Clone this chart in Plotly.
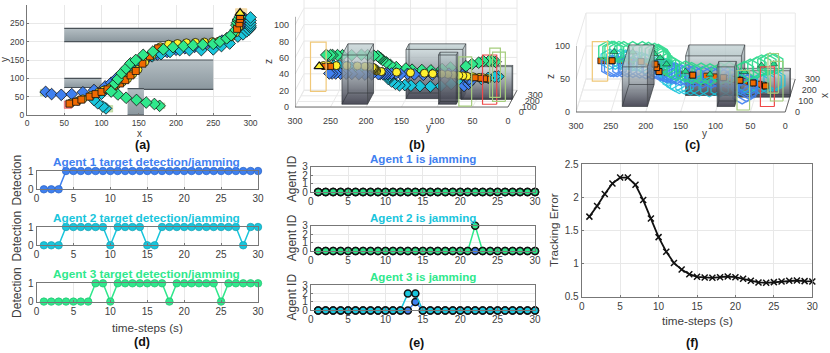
import plotly.graph_objects as go

W, H = 830, 353

# trajectories (a) and (b)
blue_x = [25,33,46,60,75,90,105,113,120,128,136,144,153,163,175,188,200,212,225,238,250,262,272,279,284,288,290,291,291,292]
blue_y = [63,57,55,57,62,68,78,88,100,112,125,138,148,158,165,172,178,182,186,190,193,203,213,222,232,240,248,255,260,264]
blue_z = [24,26,28,30,32,33,33,33,32,31,30,30,30,29,29,28,27,26,25,24,23,22,21,21,21,21,21,21,21,21]
cyan_x = [106,102,95,90,100,110,118,125,132,140,148,158,168,180,192,205,218,234,250,261,272,283,290,295,298,300,300,300,300,300]
cyan_y = [18,23,32,41,58,70,85,100,115,130,143,152,160,166,172,177,177,177,179,188,195,214,220,228,233,238,243,250,258,266]
cyan_z = [30,30,29,28,26,23,20,17,16,16,16,16,15,16,18,20,21,22,23,24,25,26,27,28,28,29,29,30,30,30]
green_x = [178,171,160,147,133,122,113,118,122,127,133,139,146,156,169,183,196,210,223,236,250,259,268,274,280,281,282,283,284,286]
green_y = [25,30,34,41,47,56,64,86,98,114,127,141,150,164,173,179,185,188,190,192,194,200,209,218,232,245,252,259,262,268]
green_z = [43,45,45,46,45,44,42,40,38,36,36,36,37,38,40,42,44,45,45,45,45,45,45,45,44,44,44,44,44,44]
target_x = [57,66,73,84,92,100,108,117,125,132,139,146,155,165,176,188,200,212,224,236,247,256,265,272,278,282,285,286,286,286]
target_y = [31,36,42,50,57,63,70,78,86,95,108,120,140,160,182,190,192,194,195,196,197,199,204,210,220,235,250,262,270,278]
target_z = [30]*30
track_x = [59,68,75,86,96,103,111,120,128,135,142,149,158,168,179,190,202,214,226,238,249,258,267,274,280,284,286,287,287,287]
track_y = [33,38,44,53,62,68,74,82,90,99,112,124,144,164,186,193,195,197,198,199,200,202,207,213,224,239,254,265,272,278]
track_z = [31]*30

# obstacles: x0, x1, y0, y1, height
obstacles = [(150,250,70,150,60), (135,157,0,72,40), (50,250,200,236,60), (50,100,75,100,60)]
# goal regions: x0, x1, y0, y1, colour
goals = [(280,295,268,290,"240,200,120"), (50,60,18,38,"240,72,72"), (18,30,52,70,"165,205,125"),
         (100,115,8,26,"165,205,125"), (172,185,18,33,"165,205,125")]

steps = list(range(1, 31))
detect1 = [0,0,0]+[1]*27
detect2 = [0,0,0,1,1,1,1,1,1,0,1,1,1,1,0,0,1,1,1,1,1,1,1,1,1,1,1,0,1,1]
detect3 = [0,0,0,0,0,0,0,1,1,0,1,1,1,1,1,1,1,0,1,1,1,1,1,1,0,1,1,1,1,1]
jam_zero = [0]*30
jam2_green = [0]*21+[3]+[0]*8
jam3_blue = [0]*13+[1]+[0]*16
jam3_cyan = [0]*12+[2,2]+[0]*16
track_error = [1.71,1.87,2.05,2.21,2.30,2.30,2.19,1.96,1.68,1.40,1.18,1.01,0.91,0.84,0.80,0.79,0.785,0.795,0.805,0.795,0.77,0.74,0.715,0.71,0.72,0.73,0.74,0.745,0.735,0.73]

BLUE, CYAN, GREEN = "#3f80f0", "#19c5dc", "#2fe88c"
FONT = "Liberation Sans"
TXT = "#404040"
GRID = "#e8e8e8"

fig = go.Figure()


def xdom(a, b):
    return [a/W, b/W]


def ydom(top, bottom):
    return [1-bottom/H, 1-top/H]


def set_axes(n, xd, yd, xr, yr, xticks, yticks, mirror=True, fs=10):
    axis = dict(showgrid=True, gridcolor=GRID, gridwidth=1, zeroline=False, showline=True,
                linecolor="#777777", linewidth=1, mirror=mirror, ticks="inside", ticklen=2,
                tickcolor="#777777", tickfont=dict(family=FONT, size=fs, color=TXT))
    s = "" if n == 1 else str(n)
    fig.layout["xaxis"+s] = dict(axis, domain=xd, range=xr, tickmode="array", tickvals=xticks,
                                 ticktext=[str(v) for v in xticks], anchor="y"+s)
    fig.layout["yaxis"+s] = dict(axis, domain=yd, range=yr, tickmode="array", tickvals=yticks,
                                 ticktext=[str(v) for v in yticks], anchor="x"+s)


def ax(n):
    return dict(xaxis="x" if n == 1 else f"x{n}", yaxis="y" if n == 1 else f"y{n}")


def label(text, px, py, size=10, color=TXT, bold=False, angle=0):
    fig.add_annotation(x=px/W, y=1-py/H, xref="paper", yref="paper", text=f"<b>{text}</b>" if bold else text,
                       showarrow=False, textangle=angle, xanchor="center", yanchor="middle",
                       font=dict(family=FONT, size=size, color=color))


def line_trace(n, xs, ys, color, width=1):
    fig.add_trace(go.Scatter(x=xs, y=ys, mode="lines", line=dict(color=color, width=width),
                             hoverinfo="skip", cliponaxis=False, **ax(n)))


def face(n, xs, ys, c0, c1, kind="vertical"):
    fig.add_trace(go.Scatter(x=xs, y=ys, mode="lines", fill="toself", line=dict(width=0),
                             fillgradient=dict(type=kind, colorscale=[[0, c0], [1, c1]]),
                             hoverinfo="skip", **ax(n)))


def markers(n, xs, ys, symbol, size, color, lw=0.8, lc="#111111", opacity=1):
    fig.add_trace(go.Scatter(x=xs, y=ys, mode="markers", cliponaxis=False, hoverinfo="skip", opacity=opacity,
                             marker=dict(symbol=symbol, size=size, color=color, line=dict(width=lw, color=lc)),
                             **ax(n)))


# ---------- panel (a) ----------
set_axes(1, xdom(27, 250.5), ydom(5, 115), [0, 300], [0, 300], list(range(0, 301, 50)), list(range(0, 301, 50)), mirror=False, fs=8.5)
for x0, x1, y0, y1, c in goals:
    fig.add_trace(go.Scatter(x=[x0, x1, x1, x0, x0], y=[y0, y0, y1, y1, y0], mode="lines", fill="toself",
                             line=dict(width=1, color=f"rgba({c},0.5)"), fillcolor=f"rgba({c},0.6)",
                             hoverinfo="skip", **ax(1)))
for x0, x1, y0, y1, h in [obstacles[2], obstacles[3], obstacles[0], obstacles[1]]:
    face(1, [x0, x1, x1, x0, x0], [y0, y0, y1, y1, y0], "#8b979e", "#b4bec3")
    line_trace(1, [x0, x1], [y1, y1], "#4a5258", 1.2)
    line_trace(1, [x0, x1], [y0, y0], "#4a5258", 1.2)
markers(1, blue_x, blue_y, "diamond", 9, BLUE)
markers(1, cyan_x, cyan_y, "diamond", 9, CYAN)
markers(1, track_x[:-1], track_y[:-1], "circle", 8, "#fff12e")
markers(1, target_x[:15], target_y[:15], "square", 7, "#f06a00")
markers(1, green_x, green_y, "diamond", 9, GREEN)
markers(1, target_x[25:-1], target_y[25:-1], "square", 7, "#f06a00")
markers(1, target_x[-1:], target_y[-1:], "triangle-up", 9, "#fff12e", lw=1.2)
label("x", 139, 133, 10)
label("y", 4, 60, 10, angle=-90)


# ---------- panels (b), (c): oblique view of the same scene ----------
def draw_scene(n, xd, yd, xr, yr, ztop, kx, kz, zticks, lab_du, lab_dz, hex_view):
    def pu(x, y):
        return [b - a*kx for a, b in zip(x, y)]

    def pv(x, z):
        return [b + a*kz for a, b in zip(x, z)]

    yticks = list(range(0, 301, 50))
    set_axes(n, xd, yd, xr, yr, yticks, zticks, mirror=False, fs=9)
    s = str(n)
    fig.layout["xaxis"+s].update(showgrid=False, showline=False, ticks="")
    fig.layout["yaxis"+s].update(showgrid=False, showline=False, ticks="", ticklabelstandoff=5)

    # walls and floor grid
    gx, gy = [], []
    for y in yticks:
        gx += pu([0, 300, 300], [y, y, y]) + [None]
        gy += pv([0, 300, 300], [0, 0, ztop]) + [None]
    for z in zticks:
        gx += pu([0, 300, 300], [300, 300, 0]) + [None]
        gy += pv([0, 300, 300], [z, z, z]) + [None]
    for x in [100, 200, 300]:
        gx += pu([x, x], [300, 0]) + [None]
        gy += pv([x, x], [0, 0]) + [None]
    line_trace(n, gx, gy, GRID, 1)

    # main axis lines
    line_trace(n, pu([0, 0], [300, 0]), pv([0, 0], [0, 0]), "#666666", 1)
    line_trace(n, pu([0, 300], [0, 0]), pv([0, 300], [0, 0]), "#666666", 1)
    line_trace(n, pu([0, 0], [300, 300]), pv([0, 0], [0, ztop]), "#666666", 1)
    tx = [100*i for i in range(4)]
    fig.add_trace(go.Scatter(x=pu(tx, [lab_du]*4), y=pv(tx, [lab_dz]*4), mode="text", text=[str(v) for v in tx],
                             textposition="middle right", cliponaxis=False, hoverinfo="skip",
                             textfont=dict(family=FONT, size=9, color=TXT), **ax(n)))

    def box(b):
        x0, x1, y0, y1, h = b
        fx, fy = [x0, x0, x0, x0, x0], [y0, y1, y1, y0, y0]
        face(n, pu(fx, fy), pv(fx, [0, 0, h, h, 0]), "rgba(62,62,76,0.92)", "rgba(190,205,208,0.72)")
        sx, sy = [x0, x1, x1, x0, x0], [y0, y0, y0, y0, y0]
        face(n, pu(sx, sy), pv(sx, [0, 0, h, h, 0]), "rgba(55,55,66,0.92)", "rgba(180,196,198,0.72)")
        tx_, ty_ = [x0, x1, x1, x0, x0], [y0, y0, y1, y1, y0]
        face(n, pu(tx_, ty_), pv(tx_, [h]*5), "rgba(176,194,196,0.8)", "rgba(196,210,212,0.8)")
        ex, ey = [], []
        for a, c, d, e in [(x0, y0, x1, y0), (x0, y1, x1, y1), (x0, y0, x0, y1), (x1, y0, x1, y1)]:
            for hh in (0, h):
                ex += pu([a, d], [c, e]) + [None]
                ey += pv([a, d], [hh, hh]) + [None]
        for a, c in [(x0, y0), (x0, y1), (x1, y0), (x1, y1)]:
            ex += pu([a, a], [c, c]) + [None]
            ey += pv([a, a], [0, h]) + [None]
        line_trace(n, ex, ey, "rgba(50,55,60,0.65)", 1)

    box(obstacles[0])
    box(obstacles[1])

    if hex_view:
        markers(n, pu(target_x, target_y), pv(target_x, target_z), "square", 6, "#f06a00")
        markers(n, pu(cyan_x, cyan_y), pv(cyan_x, cyan_z), "hexagon-open", 20, CYAN, lw=1.2, lc=CYAN, opacity=0.9)
        markers(n, pu(blue_x, blue_y), pv(blue_x, blue_z), "hexagon-open", 21, BLUE, lw=1.4, lc=BLUE, opacity=0.9)
        markers(n, pu(green_x, green_y), pv(green_x, green_z), "hexagon-open", 21, "#27d98a", lw=1.4, lc="#27d98a", opacity=0.9)
        markers(n, pu(green_x[::3], green_y[::3]), pv(green_x[::3], green_z[::3]), "triangle-up", 7, "#27d98a", lw=0.5)
        markers(n, pu(target_x[::3], target_y[::3]), pv(target_x[::3], target_z[::3]), "square", 6, "#f06a00", lw=1)
    else:
        markers(n, pu(green_x, green_y), pv(green_x, green_z), "diamond", 9, GREEN)
        markers(n, pu(cyan_x, cyan_y), pv(cyan_x, cyan_z), "diamond", 9, CYAN)
        markers(n, pu(blue_x, blue_y), pv(blue_x, blue_z), "diamond", 9, BLUE)
        markers(n, pu(track_x[:-1], track_y[:-1]), pv(track_x[:-1], track_z[:-1]), "circle", 8, "#fff12e")
        markers(n, pu(target_x[:4], target_y[:4]), pv(target_x[:4], target_z[:4]), "square", 6, "#f06a00")
        markers(n, pu(target_x[-3:-1], target_y[-3:-1]), pv(target_x[-3:-1], target_z[-3:-1]), "square", 6, "#f06a00")
        markers(n, pu(target_x[-1:], target_y[-1:]), pv(target_x[-1:], target_z[-1:]), "triangle-up", 9, "#fff12e", lw=1.2)

    box(obstacles[2])
    box(obstacles[3])

    for x0, x1, y0, y1, c in goals:
        lc = f"rgb({c})"
        fx, fy = [x0, x0, x0, x0, x0], [y0, y1, y1, y0, y0]
        line_trace(n, pu(fx, fy), pv(fx, [0, 0, 60, 60, 0]), lc, 1.2)


draw_scene(2, xdom(295, 535), ydom(0, 113.6), [300, -38], [-8, 130.5], 110, 0.0423, 0.0683, [0, 20, 40, 60, 80, 100], -15, -7.3, False)
draw_scene(3, xdom(576, 825), ydom(0, 119), [300, -57], [-10.6, 169.7], 100, 0.0478, 0.1667, [0, 50, 100], -14, -1.5, True)
label("y", 428, 128, 10)
label("z", 268, 62, 10, angle=-90)
label("y", 704, 133, 10)
label("z", 551, 77, 10, angle=-90)
label("x", 824, 96, 10, angle=-90)

# ---------- panel (d) ----------
for n, (vals, col, edge, top, name) in enumerate([(detect1, BLUE, "#2a62c0", 171, "Agent 1"), (detect2, CYAN, "#14a0b2", 227, "Agent 2"), (detect3, GREEN, "#22c070", 283.3, "Agent 3")]):
    k = 4+n
    set_axes(k, xdom(36.5, 258), ydom(top, top+18.3), [0, 30], [0, 1], list(range(0, 31, 5)), [0, 1], fs=10)
    fig.add_trace(go.Scatter(x=steps, y=vals, mode="lines+markers", cliponaxis=False, hoverinfo="skip",
                             line=dict(color=col, width=1.5),
                             marker=dict(symbol="circle", size=7.5, color=col, line=dict(width=0.7, color=edge)), **ax(k)))
    label(f"{name} target detection/jamming", 146, top-9, 11.8, col, bold=True)
    label("Detection", 17, top+9.6, 12, angle=-90)
label("time-steps (s)", 147, 327, 11.7)
label("(d)", 142, 342, 12.5, "#111111", bold=True)

# ---------- panel (e) ----------
jam_panels = [
    ([(jam_zero, BLUE), (jam_zero, CYAN), (jam_zero, GREEN)], BLUE, 166.7, "Agent 1 is jamming"),
    ([(jam_zero, BLUE), (jam2_green, GREEN)], CYAN, 225.7, "Agent 2 is jamming"),
    ([(jam3_blue, BLUE), (jam3_cyan, CYAN)], GREEN, 285, "Agent 3 is jamming"),
]
for n, (series, col, top, title) in enumerate(jam_panels):
    k = 7+n
    set_axes(k, xdom(310.7, 535), ydom(top, top+25.4), [0, 30], [0, 3], list(range(0, 31, 5)), [0, 1, 2, 3], fs=10)
    for vals, c in series:
        fig.add_trace(go.Scatter(x=steps, y=vals, mode="lines+markers", cliponaxis=False, hoverinfo="skip",
                                 line=dict(color=c, width=1.5),
                                 marker=dict(symbol="circle", size=7, color=c, line=dict(width=1.5, color="#111111")), **ax(k)))
    label(title, 422.5, top-8.5, 11.6, col, bold=True)
    label("Agent ID", 292, top+12.6, 12, angle=-90)
label("(e)", 417, 343, 12.5, "#111111", bold=True)

# ---------- panel (f) ----------
set_axes(10, xdom(581.7, 812.3), ydom(164.3, 296.7), [0, 30], [0.5, 2.5], list(range(0, 31, 5)), [0.5, 1, 1.5, 2, 2.5], fs=10)
fig.add_trace(go.Scatter(x=steps, y=track_error, mode="lines+markers", cliponaxis=False, hoverinfo="skip",
                         line=dict(color="#111111", width=1.8),
                         marker=dict(symbol="x-thin", size=6, line=dict(width=1.5, color="#111111")), **ax(10)))
label("Tracking Error", 554, 230, 11.7, angle=-90)
label("time-steps (s)", 697, 320, 11.7)
label("(f)", 692, 343, 12.5, "#111111", bold=True)

label("(a)", 142, 145, 12.5, "#111111", bold=True)
label("(b)", 417, 145, 12.5, "#111111", bold=True)
label("(c)", 692, 145, 12.5, "#111111", bold=True)

fig.update_layout(width=W, height=H, margin=dict(l=0, r=0, t=0, b=0, autoexpand=False), showlegend=False,
                  paper_bgcolor="white", plot_bgcolor="white", font=dict(family=FONT))
fig.write_html("out.html", config=dict(displayModeBar=False), post_script="document.body.style.margin='0';")
